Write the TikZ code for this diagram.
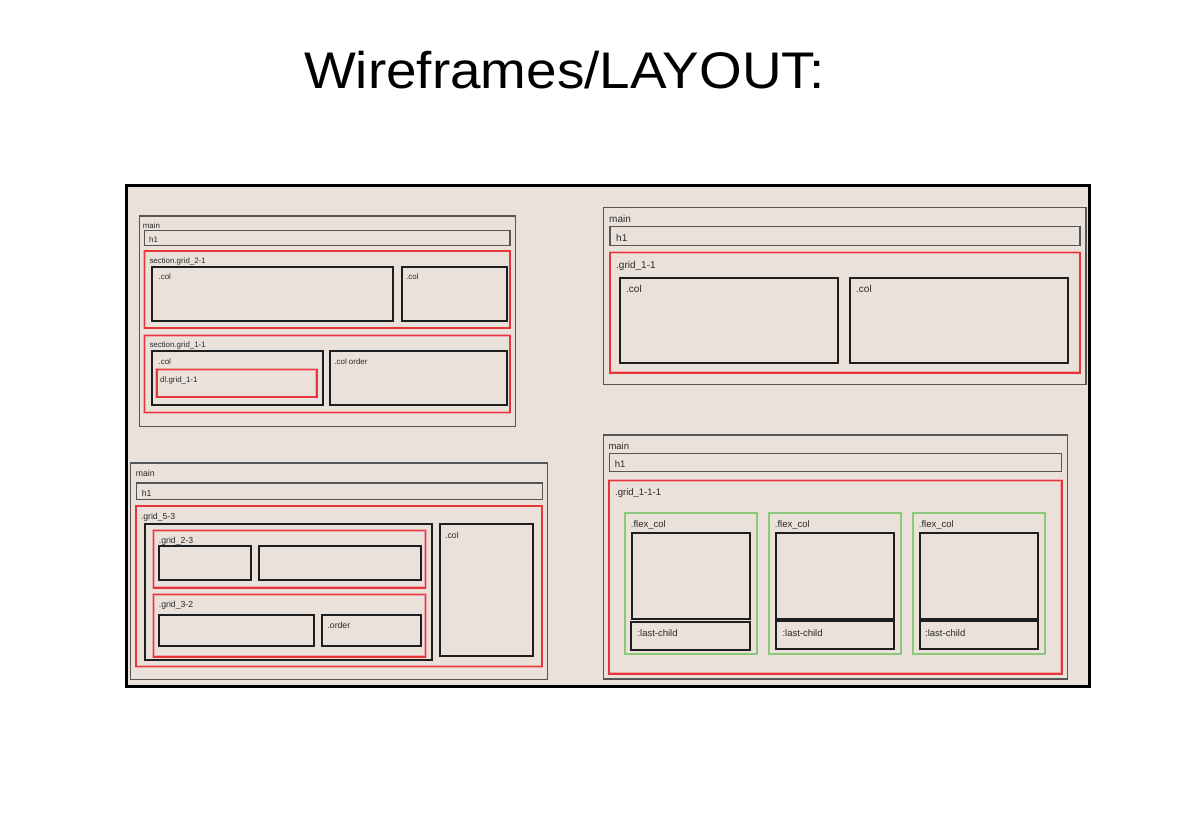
\documentclass[tikz,border=0pt]{standalone}
\usepackage{fontspec}
\setmainfont{Liberation Sans}
\usepackage{graphicx}
\definecolor{paper}{HTML}{E9E1DA}
\definecolor{redline}{HTML}{E4363B}
\definecolor{redglow}{HTML}{F0A8A8}
\definecolor{greenline}{HTML}{8CC77A}
\definecolor{grayline}{HTML}{555555}
\definecolor{darkline}{HTML}{1E1E1E}
\definecolor{labeltext}{HTML}{2A2A2A}
\tikzset{
  frame/.style={draw=black, line width=3pt, fill=paper},
  mainbox/.style={draw=grayline, line width=1.1pt},
  hbox/.style={draw=grayline, line width=1.4pt},
  blk/.style={draw=darkline, line width=1.8pt},
  redglowline/.style={draw=redglow, line width=2.8pt},
  redb/.style={draw=redline, line width=1.6pt},
  grnb/.style={draw=greenline, line width=1.7pt},
  lbl/.style={anchor=base west, inner sep=0pt, text=labeltext},
  fsA/.style={font=\fontsize{7.9}{9}\selectfont},
  fsB/.style={font=\fontsize{10}{12}\selectfont},
  fsC/.style={font=\fontsize{8.7}{10}\selectfont},
  fsD/.style={font=\fontsize{9.5}{11}\selectfont},
}
\newcommand{\redbox}[2]{\draw[redglowline] #1 rectangle #2; \draw[redb] #1 rectangle #2;}
\begin{document}
\begin{tikzpicture}[x=1pt,y=-1pt]
\useasboundingbox[fill=white] (0,0) rectangle (1200,813);

% title
\node[anchor=base west, inner sep=0pt, font=\fontsize{51.5}{60}\selectfont] (title) at (304,89) {\scalebox{1.065}[1]{Wireframes/LAYOUT:}};

% outer frame
\draw[frame] (126,186) rectangle (1089.5,686);

% ===== top-left wireframe =====
\draw[mainbox] (139.3,216) rectangle (515.3,426.7);
\node[lbl,fsA] (tlmain) at (142.7,229) {main};
\draw[hbox] (144.3,230.7) rectangle (510,245.3);
\node[lbl,fsA] (tlh1) at (149,243) {h1};
\redbox{(144.3,251)}{(510,328)}
\node[lbl,fsA] (tlsec1) at (149.3,263.3) {section.grid\_2-1};
\draw[blk] (152.3,267.3) rectangle (393.3,320.7);
\node[lbl,fsA] (tlcol1) at (158.5,279.5) {.col};
\draw[blk] (401.7,267.3) rectangle (506.7,320.7);
\node[lbl,fsA] (tlcol2) at (406,279.5) {.col};
\redbox{(144.3,335.3)}{(510,412.3)}
\node[lbl,fsA] (tlsec2) at (149.3,347) {section.grid\_1-1};
\draw[blk] (152.3,351.3) rectangle (322.7,404.7);
\node[lbl,fsA] (tlcol3) at (158.5,364) {.col};
\redbox{(156.7,369.3)}{(316.7,397)}
\node[lbl,fsA] (tldl) at (160,382.3) {dl.grid\_1-1};
\draw[blk] (329.7,351.3) rectangle (506.7,404.7);
\node[lbl,fsA] (tlcolorder) at (334.3,364) {.col order};

% ===== top-right wireframe =====
\draw[mainbox] (603.3,207.3) rectangle (1086,384.7);
\node[lbl,fsB] (trmain) at (609,222.3) {main};
\draw[hbox] (610,226.7) rectangle (1080,245.3);
\node[lbl,fsB] (trh1) at (616,241.7) {h1};
\redbox{(610,252.7)}{(1080,372.7)}
\node[lbl,fsB] (trgrid) at (616,268.3) {.grid\_1-1};
\draw[blk] (620,278.3) rectangle (838,363.3);
\node[lbl,fsB] (trcol1) at (626,293) {.col};
\draw[blk] (850,278.3) rectangle (1068,363.3);
\node[lbl,fsB] (trcol2) at (856,293) {.col};

% ===== bottom-left wireframe =====
\draw[mainbox] (130.7,463) rectangle (547.7,679.3);
\node[lbl,fsC] (blmain) at (135.7,476) {main};
\draw[hbox] (136.7,483) rectangle (542.3,499.3);
\node[lbl,fsC] (blh1) at (141.7,496.3) {h1};
\redbox{(136,506)}{(542,666.3)}
\node[lbl,fsC] (blgrid) at (140.7,519.3) {.grid\_5-3};
\draw[blk] (145,524.3) rectangle (432,659.7);
\redbox{(153.3,530.3)}{(425.3,587.7)}
\node[lbl,fsC] (blgrid23) at (158.7,543.6) {.grid\_2-3};
\draw[blk] (159.3,546) rectangle (250.7,580.3);
\draw[blk] (258.7,546) rectangle (421,580.3);
\redbox{(153.3,594.3)}{(425.3,656.7)}
\node[lbl,fsC] (blgrid32) at (158.7,607.6) {.grid\_3-2};
\draw[blk] (159.3,615) rectangle (314.3,646);
\draw[blk] (322.3,615) rectangle (421,646);
\node[lbl,fsC] (blorder) at (327.3,628) {.order};
\draw[blk] (440,524.3) rectangle (533.3,656.3);
\node[lbl,fsC] (blcol) at (445,538.6) {.col};

% ===== bottom-right wireframe =====
\draw[mainbox] (603.3,435) rectangle (1067.3,679);
\node[lbl,fsD] (brmain) at (608.3,449.9) {main};
\draw[hbox] (609.3,453.7) rectangle (1061.7,471.7);
\node[lbl,fsD] (brh1) at (614.7,467.9) {h1};
\redbox{(609,480.3)}{(1061.7,673.7)}
\node[lbl,fsD] (brgrid) at (615,495.2) {.grid\_1-1-1};

\draw[grnb] (625,513.3) rectangle (757.3,653.7);
\node[lbl,fsD] (brflex1) at (630.7,527.9) {.flex\_col};
\draw[blk] (632,533.3) rectangle (750.3,618.7);
\draw[blk] (631.3,622.3) rectangle (749.7,649.7);
\node[lbl,fsD] (brlast1) at (637.3,636.9) {:last-child};

\draw[grnb] (769,513.3) rectangle (901.3,653.7);
\node[lbl,fsD] (brflex2) at (774.7,527.9) {.flex\_col};
\draw[blk] (775.7,533.3) rectangle (894,618.7);
\draw[blk] (776.3,621.3) rectangle (894.3,648.7);
\node[lbl,fsD] (brlast2) at (782.3,636.2) {:last-child};

\draw[grnb] (913,513.3) rectangle (1045.3,653.7);
\node[lbl,fsD] (brflex3) at (918.7,527.9) {.flex\_col};
\draw[blk] (919.7,533.3) rectangle (1037.7,618.7);
\draw[blk] (919.7,621.3) rectangle (1037.7,648.7);
\node[lbl,fsD] (brlast3) at (925,636.2) {:last-child};

\end{tikzpicture}
\end{document}
